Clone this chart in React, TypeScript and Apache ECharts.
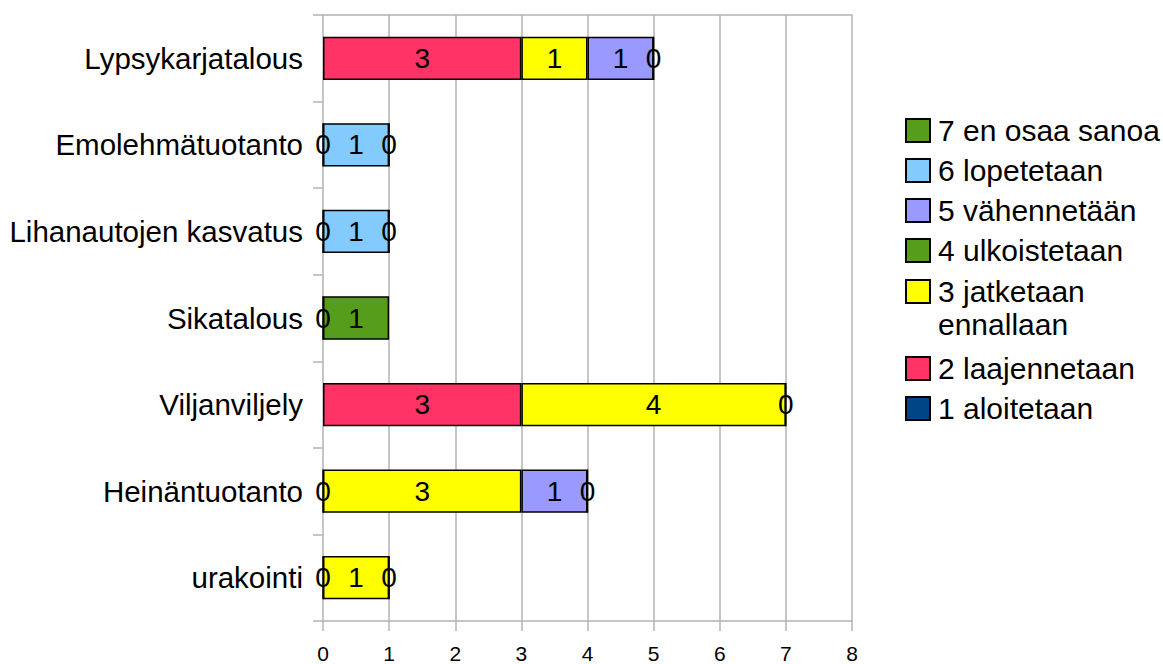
import React, { useEffect, useRef } from "react";
import * as echarts from "echarts";

const categories = [
  "Lypsykarjatalous",
  "Emolehmätuotanto",
  "Lihanautojen kasvatus",
  "Sikatalous",
  "Viljanviljely",
  "Heinäntuotanto",
  "urakointi",
];

const seriesNames = [
  "1 aloitetaan",
  "2 laajennetaan",
  "3 jatketaan ennallaan",
  "4 ulkoistetaan",
  "5 vähennetään",
  "6 lopetetaan",
  "7 en osaa sanoa",
];

const s1 = [null, null, null, null, null, null, null];
const s2 = [3, null, null, null, 3, 0, 0];
const s3 = [1, null, null, 0, 4, 3, 1];
const s4 = [null, null, null, 1, null, null, null];
const s5 = [1, 0, 0, null, 0, 1, 0];
const s6 = [0, 1, 1, null, null, 0, null];
const s7 = [null, 0, 0, null, null, null, null];

const seriesValues = [s1, s2, s3, s4, s5, s6, s7];
const seriesColors = ["#004586", "#ff3366", "#ffff00", "#579d1c", "#9999ff", "#83caff", "#579d1c"];

const xTicks = [0, 1, 2, 3, 4, 5, 6, 7, 8];

const FONT = "Liberation Sans, Arial, sans-serif";

export default function App() {
  const ref = useRef<HTMLDivElement>(null);
  useEffect(() => {
    if (!ref.current) return;
    const chart = echarts.init(ref.current, null, { renderer: "svg" });
    const legendText = { fontSize: 30, color: "#000", lineHeight: 33, fontFamily: FONT, padding: [0, 0, 0, 3] };
    const legendBase = {
      orient: "vertical",
      left: 905,
      padding: 0,
      itemWidth: 24,
      itemHeight: 23,
      itemGap: 7,
      icon: "rect",
      selectedMode: false,
      textStyle: legendText,
    };
    const option: any = {
      animation: false,
      backgroundColor: "#ffffff",
      textStyle: { fontFamily: FONT },
      grid: { left: 323, right: 311, top: 15, bottom: 42, containLabel: false },
      legend: [
        { ...legendBase, top: 114, data: [seriesNames[6], seriesNames[5], seriesNames[4], seriesNames[3]] },
        {
          ...legendBase,
          top: 242,
          data: [seriesNames[2]],
          formatter: () => "\n3 jatketaan\nennallaan",
        },
        { ...legendBase, top: 352, data: [seriesNames[1], seriesNames[0]] },
      ],
      xAxis: [
        {
          type: "value",
          min: xTicks[0],
          max: xTicks[xTicks.length - 1],
          interval: 1,
          axisLine: { show: true, lineStyle: { color: "#b3b3b3", width: 1.5 } },
          axisTick: { show: true, length: 10, lineStyle: { color: "#b3b3b3", width: 1.5 } },
          axisLabel: { fontSize: 21, color: "#000", margin: 22, fontFamily: FONT },
          splitLine: { show: true, lineStyle: { color: "#b3b3b3", width: 1.5 } },
        },
        {
          type: "value",
          position: "top",
          min: xTicks[0],
          max: xTicks[xTicks.length - 1],
          interval: 1,
          axisLine: { show: true, lineStyle: { color: "#b3b3b3", width: 1.5 } },
          axisTick: { show: false },
          axisLabel: { show: false },
          splitLine: { show: false },
        },
      ],
      yAxis: {
        type: "category",
        inverse: true,
        data: categories,
        axisLine: { show: false },
        axisTick: { show: true, length: 10, lineStyle: { color: "#b3b3b3", width: 1.5 } },
        axisLabel: { fontSize: 29.5, color: "#000", margin: 20, fontFamily: FONT },
      },
      series: seriesNames.map((name, i) => ({
        name,
        type: "bar",
        stack: "total",
        xAxisIndex: 0,
        barCategoryGap: "50%",
        data: seriesValues[i],
        itemStyle: { color: seriesColors[i], borderColor: "#000", borderWidth: 1.5 },
        label: {
          show: true,
          position: "inside",
          fontSize: 28,
          color: "#000",
          fontFamily: FONT,
        },
      })),
    };
    chart.setOption(option);
    return () => chart.dispose();
  }, []);
  return (
    <div
      ref={ref}
      style={{ position: "fixed", left: 0, top: 0, width: 1163, height: 664 }}
    />
  );
}
